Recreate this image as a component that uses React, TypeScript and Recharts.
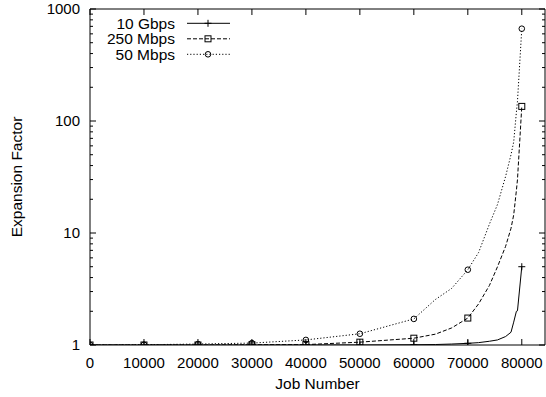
import React from 'react';
import { LineChart, Line, XAxis, YAxis, Legend } from 'recharts';

// ---- data ----
const jobNumbers = [0, 10000, 20000, 30000, 40000, 50000, 60000, 64000, 67000, 70000, 72000, 74000, 75500, 77000, 78000, 78500, 79000, 79200, 80000];
const gbps10 = [1, 1, 1, 1, 1, 1, 1.005, 1.01, 1.02, 1.035, 1.05, 1.08, 1.11, 1.19, 1.3, 1.6, 2.0, 2.02, 5.0];
const mbps250 = [1, 1, 1, 1.005, 1.008, 1.06, 1.15, 1.25, 1.42, 1.74, 2.33, 3.4, 5, 7.6, 11, 14.5, 24, 30, 135];
const mbps50 = [1, 1.005, 1.02, 1.04, 1.11, 1.26, 1.71, 2.55, 3.2, 4.7, 6.7, 12, 18, 32, 50, 65, 120, 150, 667];

const seriesNames = ['10 Gbps', '250 Mbps', '50 Mbps'];
const xTicks = [0, 10000, 20000, 30000, 40000, 50000, 60000, 70000, 80000];
const yMajorTicks = [1, 10, 100, 1000];
const yMinorTicks = [2, 3, 4, 5, 6, 7, 8, 9, 20, 30, 40, 50, 60, 70, 80, 90, 200, 300, 400, 500, 600, 700, 800, 900];

const data = jobNumbers.map((x, i) => ({ x, g10: gbps10[i], m250: mbps250[i], m50: mbps50[i] }));
const yAllTicks = [...yMajorTicks, ...yMinorTicks].sort((a, b) => a - b);

const FONT = '"Liberation Sans", Arial, Helvetica, sans-serif';
const X_DOMAIN: [number, number] = [0, 84300];
const Y_DOMAIN: [number, number] = [1, 1000];

type Kind = 'plus' | 'square' | 'circle';

function Marker({ kind, cx, cy }: { kind: Kind; cx: number; cy: number }) {
  if (kind === 'plus') {
    return (
      <g>
        <line x1={cx - 3.5} x2={cx + 3.5} y1={cy} y2={cy} stroke="#000" strokeWidth={1} />
        <line x1={cx} x2={cx} y1={cy - 3.5} y2={cy + 3.5} stroke="#000" strokeWidth={1} />
      </g>
    );
  }
  if (kind === 'square') {
    return <rect x={cx - 3} y={cy - 3} width={6} height={6} fill="none" stroke="#000" strokeWidth={1} />;
  }
  return <circle cx={cx} cy={cy} r={2.8} fill="none" stroke="#000" strokeWidth={1} />;
}

const makeDot = (kind: Kind) => (props: any) => {
  const { cx, cy, payload, index } = props;
  const k = `dot-${kind}-${index}`;
  if (cx == null || cy == null || payload == null || payload.x % 10000 !== 0) return <g key={k} />;
  return (
    <g key={k}>
      <Marker kind={kind} cx={cx} cy={cy} />
    </g>
  );
};

const isMajor = (v: number) => yMajorTicks.indexOf(v) >= 0;

const BottomTick = (props: any) => {
  const { x, y, payload } = props;
  return (
    <g>
      <line x1={x} x2={x} y1={y} y2={y - 6} stroke="#000" strokeWidth={1} />
      <text x={x} y={y + 23} textAnchor="middle" fontSize={15} fontFamily={FONT} fill="#000">
        {payload.value}
      </text>
    </g>
  );
};

const TopTick = (props: any) => {
  const { x, y } = props;
  return <line x1={x} x2={x} y1={y} y2={y + 6} stroke="#000" strokeWidth={1} />;
};

const LeftTick = (props: any) => {
  const { x, y, payload } = props;
  const major = isMajor(payload.value);
  return (
    <g>
      <line x1={x} x2={x + (major ? 6 : 3)} y1={y} y2={y} stroke="#000" strokeWidth={1} />
      {major && (
        <text x={x - 10} y={y + 5} textAnchor="end" fontSize={15} fontFamily={FONT} fill="#000">
          {payload.value}
        </text>
      )}
    </g>
  );
};

const RightTick = (props: any) => {
  const { x, y, payload } = props;
  const major = isMajor(payload.value);
  return <line x1={x} x2={x - (major ? 6 : 3)} y1={y} y2={y} stroke="#000" strokeWidth={1} />;
};

const legendKinds: Kind[] = ['plus', 'square', 'circle'];
const legendDash = [undefined, '4 2', '1.2 2'];

const LegendContent = () => (
  <svg width={240} height={64} style={{ display: 'block' }}>
    {seriesNames.map((name, i) => {
      const cy = 23.3 + i * 15.5;
      return (
        <g key={name}>
          <text x={175} y={cy + 5.3} textAnchor="end" fontSize={15.5} fontFamily={FONT} fill="#000">
            {name}
          </text>
          <line x1={187} x2={230} y1={cy} y2={cy} stroke="#000" strokeWidth={1} strokeDasharray={legendDash[i]} />
          <Marker kind={legendKinds[i]} cx={208} cy={cy} />
        </g>
      );
    })}
  </svg>
);

export default function App() {
  return (
    <div style={{ position: 'absolute', left: 0, top: 0, fontFamily: FONT, background: '#fff' }}>
      <LineChart width={546} height={397} data={data} margin={{ top: 8, right: 0, bottom: 0, left: 0 }}>
        <XAxis
          xAxisId="top"
          orientation="top"
          dataKey="x"
          type="number"
          domain={X_DOMAIN}
          ticks={xTicks}
          interval={0}
          tickSize={0}
          tickMargin={0}
          tickLine={false}
          tick={TopTick}
          axisLine={{ stroke: '#000' }}
          height={1}
          allowDataOverflow
        />
        <XAxis
          xAxisId="b"
          dataKey="x"
          type="number"
          domain={X_DOMAIN}
          ticks={xTicks}
          interval={0}
          tickSize={0}
          tickMargin={0}
          tickLine={false}
          tick={BottomTick}
          axisLine={{ stroke: '#000' }}
          height={52}
          allowDataOverflow
          label={{ value: 'Job Number', position: 'insideBottom', offset: 8, fontSize: 15.5, fill: '#000', fontFamily: FONT }}
        />
        <YAxis
          yAxisId="l"
          type="number"
          scale="log"
          domain={Y_DOMAIN}
          ticks={yAllTicks}
          interval={0}
          tickSize={0}
          tickMargin={0}
          tickLine={false}
          tick={LeftTick}
          axisLine={{ stroke: '#000' }}
          width={90}
          allowDataOverflow
          label={{
            value: 'Expansion Factor',
            angle: -90,
            position: 'insideLeft',
            offset: 16,
            fontSize: 15.5,
            fill: '#000',
            fontFamily: FONT,
            style: { textAnchor: 'middle' },
          }}
        />
        <YAxis
          yAxisId="r"
          orientation="right"
          type="number"
          scale="log"
          domain={Y_DOMAIN}
          ticks={yAllTicks}
          interval={0}
          tickSize={0}
          tickMargin={0}
          tickLine={false}
          tick={RightTick}
          axisLine={{ stroke: '#000' }}
          width={1}
          allowDataOverflow
        />
        <Legend
          content={LegendContent}
          layout="vertical"
          verticalAlign="middle"
          align="center"
          wrapperStyle={{ left: 0, top: 0, width: 240, height: 64 }}
        />
        <Line
          xAxisId="b"
          yAxisId="l"
          type="linear"
          dataKey="m50"
          name={seriesNames[2]}
          stroke="#000"
          strokeWidth={1}
          strokeDasharray="1.2 2"
          dot={makeDot('circle')}
          activeDot={false}
          isAnimationActive={false}
        />
        <Line
          xAxisId="b"
          yAxisId="l"
          type="linear"
          dataKey="m250"
          name={seriesNames[1]}
          stroke="#000"
          strokeWidth={1}
          strokeDasharray="4 2"
          dot={makeDot('square')}
          activeDot={false}
          isAnimationActive={false}
        />
        <Line
          xAxisId="b"
          yAxisId="l"
          type="linear"
          dataKey="g10"
          name={seriesNames[0]}
          stroke="#000"
          strokeWidth={1}
          dot={makeDot('plus')}
          activeDot={false}
          isAnimationActive={false}
        />
      </LineChart>
    </div>
  );
}
